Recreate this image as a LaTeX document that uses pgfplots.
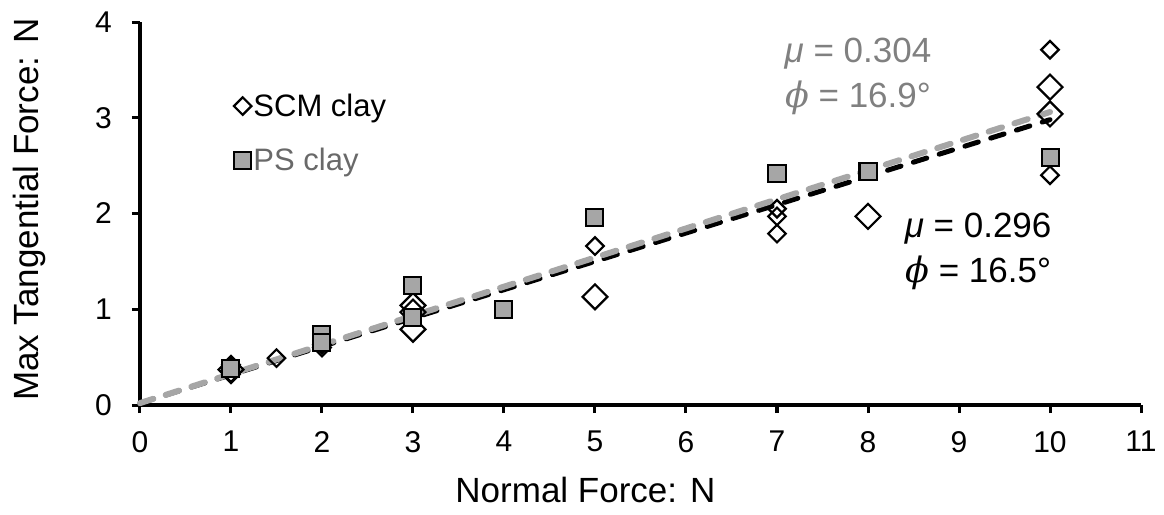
\documentclass[border=0pt]{standalone}
\usepackage{fontspec}
\setmainfont{Liberation Sans}
\newfontfamily\dvs{DejaVu Serif}
\usepackage{pgfplots}
\pgfplotsset{compat=1.18}
\definecolor{lgray}{RGB}{166,166,166}
\definecolor{tgray}{RGB}{128,128,128}
\definecolor{pgray}{RGB}{105,105,105}
\newcommand{\phisym}{{\dvs\itshape ϕ}}
\begin{document}
\begin{tikzpicture}
\begin{axis}[
  scale only axis, width=1001pt, height=383pt,
  xmin=0, xmax=11, ymin=0, ymax=4,
  xtick={0,1,...,11}, ytick={0,1,2,3,4},
  axis lines*=left,
  axis line style={line width=3.5pt},
  tick style={line width=3pt, black},
  tick align=outside, major tick length=8pt,
  /pgf/number format/assume math mode=true,
  xticklabel={\pgfmathprintnumber{\tick}},
  yticklabel={\pgfmathprintnumber{\tick}},
  tick label style={font=\fontsize{30}{34}\selectfont},
  xticklabel style={inner sep=6pt, yshift=-12pt},
  yticklabel style={inner sep=5pt, xshift=-15pt},
  xlabel={Normal Force: N}, ylabel={Max Tangential Force: N},
  label style={font=\fontsize{35}{40}\selectfont},
  xlabel style={at={(axis description cs:0.445,-0.222)}, anchor=center},
  ylabel style={at={(axis description cs:-0.11,0.51)}, anchor=center, rotate=0},
  clip=false,
  legend style={draw=none, fill=none, at={(axis cs:1.03,3.27)}, anchor=north west,
    font=\fontsize{31}{36}\selectfont, row sep=26pt, inner sep=0pt,
    /tikz/every even column/.append style={column sep=2pt}},
  legend cell align=left,
]
% SCM clay, small diamonds
\addplot[only marks, mark=square, mark size=6.2pt, line width=2.2pt, draw=black, fill=white,
  every mark/.append style={rotate=45}]
  coordinates {(1,0.42) (1,0.32) (1.5,0.49) (2,0.60) (2,0.63) (5,1.66) (7,2.05) (7,1.97) (7,1.79) (10,3.71) (10,2.40)};
\addlegendentry{SCM clay}
% SCM clay, large diamonds
\addplot[only marks, mark=square, mark size=8.8pt, line width=2.2pt, draw=black, fill=white,
  every mark/.append style={rotate=45}, forget plot]
  coordinates {(1,0.37) (3,1.04) (3,0.97) (3,0.79) (5,1.13) (8,1.97) (10,3.32) (10,3.04)};
% PS clay, squares
\addplot[only marks, mark=square*, mark size=8.5pt, line width=2pt, draw=black, fill=lgray]
  coordinates {(1,0.38) (2,0.74) (2,0.65) (3,1.25) (3,0.91) (4,1.00) (5,1.96) (7,2.42) (8,2.44) (10,2.58)};
\addlegendentry{\textcolor{pgray}{PS clay}}
% fits
\addplot[black, line width=5pt, line cap=round, dash pattern=on 14pt off 13pt, forget plot]
  coordinates {(0,0.02) (10,2.98)};
\addplot[lgray, line width=6pt, line cap=round, dash pattern=on 14pt off 13pt, forget plot]
  coordinates {(0,0.02) (10,3.06)};
\node[text=tgray, align=center, font=\fontsize{35}{45}\selectfont] at (axis cs:7.89,3.43)
  {\textit{μ} = 0.304\\\phisym{} = 16.9°};
\node[text=black, align=center, font=\fontsize{35}{45}\selectfont] at (axis cs:9.21,1.60)
  {\textit{μ} = 0.296\\\phisym{} = 16.5°};
\end{axis}
\pgfresetboundingbox
\path[use as bounding box] (-140pt,-109pt) rectangle (1024pt,405pt);
\end{tikzpicture}
\end{document}
